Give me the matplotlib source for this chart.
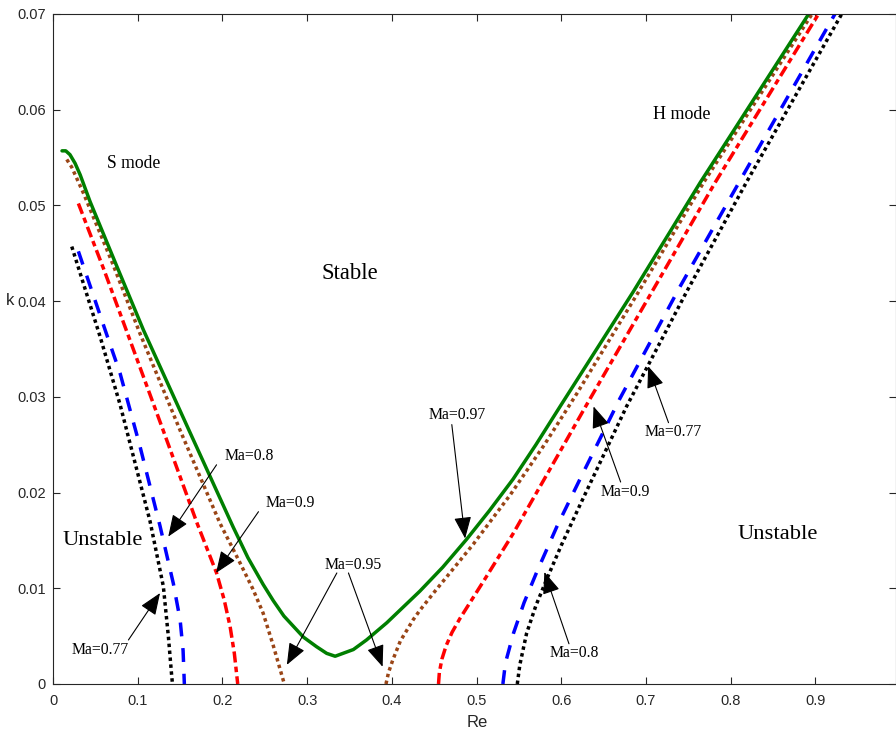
import matplotlib
matplotlib.use("Agg")
import matplotlib.pyplot as plt

# Ma = 0.97 (single connected curve)
green_re = [0.0106, 0.015, 0.020, 0.026, 0.032, 0.0437, 0.075, 0.1066, 0.160, 0.2126,
            0.230, 0.248, 0.260, 0.2725, 0.2955, 0.311, 0.323, 0.333, 0.3545, 0.370,
            0.394, 0.433, 0.460, 0.488, 0.515, 0.543, 0.570, 0.600, 0.685, 0.764, 0.892]
green_k = [0.0557, 0.0557, 0.0553, 0.0544, 0.0532, 0.0504, 0.0437, 0.0370, 0.0266, 0.0164,
           0.0132, 0.0104, 0.0087, 0.0071, 0.0049, 0.0039, 0.0032, 0.0029, 0.0036, 0.0046,
           0.0064, 0.0097, 0.0122, 0.0151, 0.0181, 0.0214, 0.0250, 0.0292, 0.0410, 0.0524,
           0.0700]

# Ma = 0.95
brown_s_re = [0.0162, 0.022, 0.0358, 0.070, 0.1027, 0.150, 0.197, 0.221, 0.236, 0.248,
              0.260, 0.273]
brown_s_k = [0.0548, 0.0540, 0.0513, 0.0440, 0.0366, 0.0265, 0.0168, 0.0126, 0.0099, 0.0074,
             0.0040, 0.0]
brown_h_re = [0.393, 0.396, 0.401, 0.410, 0.425, 0.433, 0.450, 0.496, 0.540, 0.580, 0.618,
              0.690, 0.768, 0.896]
brown_h_k = [0.0, 0.0012, 0.0025, 0.0045, 0.0067, 0.0077, 0.0096, 0.0146, 0.0198, 0.0250,
             0.0303, 0.0408, 0.0524, 0.0700]

# Ma = 0.9
red_s_re = [0.0299, 0.060, 0.0909, 0.130, 0.170, 0.193, 0.202, 0.209, 0.214, 0.218]
red_s_k = [0.0502, 0.0433, 0.0359, 0.0265, 0.0168, 0.0116, 0.0088, 0.0060, 0.0032, 0.0]
red_h_re = [0.455, 0.456, 0.459, 0.464, 0.471, 0.480, 0.490, 0.510, 0.543, 0.585, 0.630,
            0.7816, 0.9036]
red_h_k = [0.0, 0.0012, 0.0026, 0.0040, 0.0054, 0.0068, 0.0082, 0.0110, 0.0157, 0.0222,
           0.0292, 0.0524, 0.0700]

# Ma = 0.8
blue_s_re = [0.0299, 0.0653, 0.079, 0.1027, 0.1263, 0.142, 0.150, 0.1535, 0.155]
blue_s_k = [0.0452, 0.0360, 0.0325, 0.0248, 0.0165, 0.0105, 0.0067, 0.0035, 0.0]
blue_h_re = [0.531, 0.534, 0.5435, 0.556, 0.571, 0.595, 0.622, 0.669, 0.740, 0.811, 0.923]
blue_h_k = [0.0, 0.0022, 0.0053, 0.0085, 0.0117, 0.0165, 0.0214, 0.0298, 0.0415, 0.0526, 0.0700]

# Ma = 0.77
black_s_re = [0.0221, 0.0555, 0.0791, 0.1145, 0.1302, 0.1362, 0.1401, 0.141]
black_s_k = [0.0457, 0.0363, 0.0292, 0.0170, 0.0102, 0.0049, 0.0008, 0.0]
black_h_re = [0.548, 0.551, 0.559, 0.570, 0.583, 0.600, 0.622, 0.677, 0.748, 0.819, 0.931]
black_h_k = [0.0, 0.0020, 0.0053, 0.0082, 0.0110, 0.0145, 0.0187, 0.0290, 0.0410, 0.0525, 0.0700]

x_ticks = [0, 0.1, 0.2, 0.3, 0.4, 0.5, 0.6, 0.7, 0.8, 0.9]
x_labels = ["0", "0.1", "0.2", "0.3", "0.4", "0.5", "0.6", "0.7", "0.8", "0.9"]
y_ticks = [0, 0.01, 0.02, 0.03, 0.04, 0.05, 0.06, 0.07]
y_labels = ["0", "0.01", "0.02", "0.03", "0.04", "0.05", "0.06", "0.07"]

GREEN = "#007f00"
BROWN = "#9a4516"
SERIF = "Liberation Serif"
SANS = "Liberation Sans"


def arrow(ax, tail, head):
    ax.annotate("", xy=head, xytext=tail,
                arrowprops=dict(arrowstyle="-|>,head_length=0.75,head_width=0.3",
                                color="k", lw=0.8, shrinkA=0, shrinkB=0,
                                mutation_scale=18))


def main():
    fig = plt.figure(figsize=(8.96, 7.31), dpi=100)
    ax = fig.add_axes([0.0592, 0.0643, 0.9403, 0.9166])

    lw = 2.5
    ax.plot(black_s_re, black_s_k, color="k", lw=lw, dashes=(1, 1))
    ax.plot(black_h_re, black_h_k, color="k", lw=lw, dashes=(1, 1))
    ax.plot(blue_s_re, blue_s_k, color="#0000ff", lw=lw, dashes=(4, 3.4))
    ax.plot(blue_h_re, blue_h_k, color="#0000ff", lw=lw, dashes=(4, 3.4))
    ax.plot(red_s_re, red_s_k, color="#ff0000", lw=lw, dashes=(3.2, 1.2, 1.6, 1.2))
    ax.plot(red_h_re, red_h_k, color="#ff0000", lw=lw, dashes=(3.2, 1.2, 1.6, 1.2))
    ax.plot(brown_s_re, brown_s_k, color=BROWN, lw=lw, dashes=(1, 1))
    ax.plot(brown_h_re, brown_h_k, color=BROWN, lw=lw, dashes=(1, 1))
    ax.plot(green_re, green_k, color=GREEN, lw=lw, solid_capstyle="round",
            solid_joinstyle="round")

    ax.set_xlim(0, 0.9945)
    ax.set_ylim(0, 0.07)
    ax.set_xticks(x_ticks)
    ax.set_xticklabels(x_labels)
    ax.set_yticks(y_ticks)
    ax.set_yticklabels(y_labels)
    ax.tick_params(direction="in", top=True, right=True, length=5, width=0.8,
                   colors="#262626", labelsize=10.5)
    ax.tick_params(axis="x", pad=7)
    ax.tick_params(axis="y", pad=5)
    for lab in ax.get_xticklabels() + ax.get_yticklabels():
        lab.set_fontfamily(SANS)
    for s in ax.spines.values():
        s.set_color("#262626")
        s.set_linewidth(0.8)

    ax.set_xlabel("Re", fontsize=12, family=SANS, color="#262626")
    ax.set_ylabel("k", fontsize=12, family=SANS, color="#262626", rotation=0)
    ax.xaxis.set_label_coords(0.503, -0.046)
    ax.yaxis.set_label_coords(-0.051, 0.561)

    ax.text(0.095, 0.0544, "S mode", family=SERIF, fontsize=12.7, ha="center", va="center")
    ax.text(0.7426, 0.0595, "H mode", family=SERIF, fontsize=13, ha="center", va="center")
    ax.text(0.3507, 0.0429, "Stable", family=SERIF, fontsize=16.3, ha="center", va="center")
    ax.text(0.0585, 0.0150, "Unstable", family=SERIF, fontsize=16.2, ha="center", va="center")
    ax.text(0.855, 0.0156, "Unstable", family=SERIF, fontsize=16.2, ha="center", va="center")

    fs = 11.3
    ax.text(0.232, 0.0238, "Ma=0.8", family=SERIF, fontsize=fs, ha="center", va="center")
    ax.text(0.2802, 0.0189, "Ma=0.9", family=SERIF, fontsize=fs, ha="center", va="center")
    ax.text(0.354, 0.0124, "Ma=0.95", family=SERIF, fontsize=fs, ha="center", va="center")
    ax.text(0.0555, 0.0036, "Ma=0.77", family=SERIF, fontsize=fs, ha="center", va="center")
    ax.text(0.4766, 0.0281, "Ma=0.97", family=SERIF, fontsize=fs, ha="center", va="center")
    ax.text(0.732, 0.0263, "Ma=0.77", family=SERIF, fontsize=fs, ha="center", va="center")
    ax.text(0.6753, 0.0201, "Ma=0.9", family=SERIF, fontsize=fs, ha="center", va="center")
    ax.text(0.6149, 0.0032, "Ma=0.8", family=SERIF, fontsize=fs, ha="center", va="center")

    arrow(ax, (0.193, 0.0229), (0.136, 0.0154))
    arrow(ax, (0.2425, 0.0180), (0.1924, 0.0116))
    arrow(ax, (0.335, 0.0116), (0.276, 0.0020))
    arrow(ax, (0.3487, 0.0116), (0.389, 0.0018))
    arrow(ax, (0.089, 0.0046), (0.1263, 0.0095))
    arrow(ax, (0.4707, 0.0271), (0.4864, 0.0152))
    arrow(ax, (0.7265, 0.0273), (0.7025, 0.0332))
    arrow(ax, (0.670, 0.0211), (0.638, 0.0290))
    arrow(ax, (0.609, 0.0042), (0.580, 0.0117))

    fig.savefig("out.png", dpi=100)


if __name__ == "__main__":
    main()
